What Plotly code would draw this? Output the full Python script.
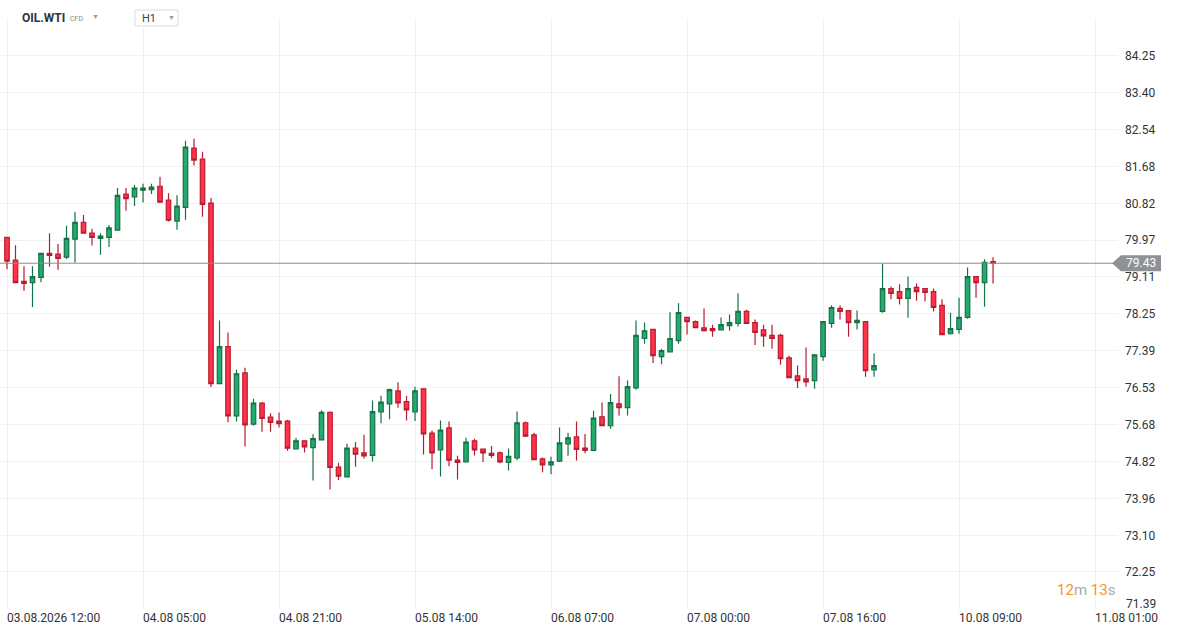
import plotly.graph_objs as go

# hourly OIL.WTI candles, index = trading hour
open_ = [80.03, 79.50, 79.01, 78.98, 79.10, 79.66, 79.64, 79.57, 79.99, 80.38,
         80.13, 80.01, 80.03, 80.20, 81.04, 80.97, 81.13, 81.14, 81.22, 80.90,
         80.41, 80.73, 82.11, 81.85, 80.83, 76.63, 77.49, 75.88, 76.88, 75.69,
         76.18, 75.85, 75.76, 75.76, 75.11, 75.30, 75.14, 75.32, 75.96, 74.69,
         74.46, 75.13, 75.02, 74.96, 75.97, 76.16, 76.46, 76.21, 75.97, 76.51,
         75.48, 75.09, 75.60, 74.85, 74.81, 75.30, 75.11, 75.01, 75.02, 74.80,
         74.90, 75.72, 75.44, 74.88, 74.74, 74.83, 75.23, 75.39, 75.13, 75.08,
         75.86, 75.65, 76.16, 76.07, 76.53, 77.68, 77.89, 77.26, 77.37, 77.63,
         78.17, 78.07, 77.93, 77.91, 77.88, 77.98, 78.03, 78.31, 78.05, 77.88,
         77.75, 77.75, 77.23, 76.81, 76.74, 76.70, 77.26, 78.03, 78.38, 78.33,
         78.05, 78.07, 76.95, 78.31, 78.84, 78.77, 78.61, 78.87, 78.84, 78.77,
         78.45, 77.79, 77.89, 78.17, 79.12, 78.98, 79.47]
high = [80.03, 79.85, 79.36, 79.36, 79.66, 80.13, 79.88, 80.30, 80.62, 80.55,
        80.23, 80.13, 80.32, 81.18, 81.18, 81.25, 81.28, 81.28, 81.44, 81.06,
        81.01, 82.28, 82.33, 82.02, 80.95, 78.10, 77.82, 76.95, 77.00, 76.28,
        76.20, 75.94, 75.96, 75.79, 75.37, 75.30, 75.45, 76.01, 75.98, 74.79,
        75.23, 75.27, 75.44, 76.24, 76.35, 76.51, 76.66, 76.35, 76.56, 76.51,
        75.54, 75.77, 75.75, 74.95, 75.37, 75.35, 75.11, 75.18, 75.05, 75.12,
        75.98, 75.75, 75.49, 74.91, 74.93, 75.61, 75.49, 75.75, 75.46, 76.00,
        76.19, 76.39, 76.80, 76.70, 78.10, 78.05, 77.89, 77.44, 78.29, 78.50,
        78.17, 78.10, 78.38, 78.00, 78.17, 78.24, 78.73, 78.35, 78.12, 78.00,
        78.00, 77.79, 77.28, 77.05, 77.47, 77.30, 78.07, 78.45, 78.45, 78.33,
        78.33, 78.07, 77.33, 79.41, 78.89, 78.94, 79.12, 78.96, 78.84, 78.84,
        78.59, 78.28, 78.63, 79.33, 79.12, 79.52, 79.57]
low = [79.29, 78.98, 78.79, 78.41, 78.99, 79.35, 79.28, 79.53, 79.44, 80.13,
       79.84, 79.63, 79.81, 80.20, 80.65, 80.76, 80.84, 81.04, 80.85, 80.40,
       80.21, 80.44, 81.70, 80.51, 76.55, 76.63, 75.73, 75.75, 75.17, 75.65,
       75.51, 75.51, 75.61, 75.07, 75.11, 75.03, 74.38, 75.32, 74.17, 74.39,
       74.45, 74.70, 74.89, 74.82, 75.71, 75.80, 76.07, 75.77, 75.76, 74.98,
       74.64, 74.47, 74.71, 74.40, 74.81, 74.96, 74.81, 74.90, 74.78, 74.61,
       74.85, 75.39, 74.86, 74.57, 74.52, 74.81, 74.95, 74.84, 75.01, 75.06,
       75.65, 75.58, 75.89, 75.89, 76.49, 77.56, 77.11, 77.08, 77.37, 77.56,
       77.77, 77.93, 77.84, 77.72, 77.88, 77.86, 77.96, 78.03, 77.53, 77.49,
       77.44, 77.07, 76.77, 76.53, 76.56, 76.51, 77.16, 77.93, 78.12, 77.72,
       77.89, 76.79, 76.79, 78.28, 78.59, 78.47, 78.16, 78.56, 78.54, 78.31,
       77.77, 77.77, 77.79, 78.14, 78.63, 78.42, 78.96]
close = [79.48, 78.98, 78.96, 79.12, 79.66, 79.61, 79.54, 80.01, 80.38, 80.13,
         80.03, 80.06, 80.25, 81.01, 80.93, 81.18, 81.18, 81.20, 80.85, 80.43,
         80.76, 82.13, 81.83, 80.80, 76.63, 77.49, 75.88, 76.86, 75.67, 76.18,
         75.82, 75.73, 75.70, 75.13, 75.30, 75.16, 75.35, 75.96, 74.68, 74.48,
         75.13, 74.99, 74.95, 75.98, 76.20, 76.49, 76.18, 76.02, 76.46, 75.46,
         75.02, 75.55, 74.85, 74.80, 75.27, 75.09, 75.02, 74.96, 74.81, 74.94,
         75.72, 75.41, 74.86, 74.74, 74.81, 75.25, 75.37, 75.10, 75.08, 75.83,
         75.65, 76.19, 76.07, 76.56, 77.75, 77.86, 77.28, 77.40, 77.68, 78.28,
         78.07, 77.93, 77.86, 77.86, 78.00, 78.05, 78.31, 78.03, 77.82, 77.74,
         77.68, 77.21, 76.77, 76.70, 76.67, 77.30, 78.07, 78.40, 78.31, 78.05,
         78.10, 76.93, 77.05, 78.84, 78.73, 78.61, 78.84, 78.77, 78.75, 78.40,
         77.77, 77.91, 78.17, 79.12, 78.98, 79.45, 79.43]

tick_idx = [0, 16, 32, 48, 64, 80, 96, 112, 128]
tick_labels = ['03.08.2026 12:00', '04.08 05:00', '04.08 21:00', '05.08 14:00',
               '06.08 07:00', '07.08 00:00', '07.08 16:00', '10.08 09:00',
               '11.08 01:00']
price_ticks = [84.25, 83.40, 82.54, 81.68, 80.82, 79.97, 79.11, 78.25,
               77.39, 76.53, 75.68, 74.82, 73.96, 73.10, 72.25, 71.39]

W, H = 1184, 635
L, R, T, B = 0, 66, 18, 26
PW, PH = W - L - R, H - T - B


def px(x):
    return x / PW


def py(y):
    return (H - B - y) / PH


last = close[-1]
half = 8 / 43.0

# bottom price label sits above the time axis, so it goes in as an annotation
price_text = ['%.2f' % v for v in price_ticks[:-1]] + ['']

data = [go.Candlestick(x=list(range(len(close))), open=open_, high=high,
                       low=low, close=close,
                       increasing=dict(fillcolor='#26a96c',
                                       line=dict(color='#137247', width=1.2)),
                       decreasing=dict(fillcolor='#ff3348',
                                       line=dict(color='#b81c30', width=1.2)),
                       whiskerwidth=0, hoverinfo='skip')]


def note(x, y, text, size, color, anchor='center', ref='paper'):
    return dict(xref='paper', yref=ref, x=x, y=y, xanchor=anchor,
                yanchor='middle', text=text, showarrow=False,
                font=dict(size=size, color=color))


layout = go.Layout(
    width=W, height=H,
    margin=dict(l=L, r=R, t=T, b=B),
    paper_bgcolor='white', plot_bgcolor='white',
    font=dict(family='Roboto', size=12, color='#333'),
    showlegend=False,
    boxgap=0.25,
    xaxis=dict(range=[-0.824, 130.7], tickvals=tick_idx, ticktext=tick_labels,
               showgrid=True, gridcolor='#f1f1f1', zeroline=False,
               showline=False, ticks='', ticklabelposition='outside right',
               rangeslider=dict(visible=False), tickfont=dict(size=12, color='#333')),
    yaxis=dict(side='right', range=[71.389, 85.133], tickvals=price_ticks,
               ticktext=price_text, showgrid=True, gridcolor='#f1f1f1',
               zeroline=False, showline=False, ticks='', ticklabelstandoff=6,
               tickfont=dict(size=12, color='#333')),
    shapes=[
        dict(type='line', xref='paper', yref='y', x0=0, x1=px(1113),
             y0=last, y1=last, line=dict(color='#8e8e8e', width=1)),
        dict(type='path', xref='paper', yref='y', fillcolor='#8e9195',
             line=dict(width=0), layer='above',
             path='M {},{} L {},{} L {},{} L {},{} L {},{} Z'.format(
                 px(1112), last, px(1121), last + half, px(1161), last + half,
                 px(1161), last - half, px(1121), last - half)),
        dict(type='rect', xref='paper', yref='paper', x0=px(135), x1=px(178),
             y0=py(26), y1=py(10), fillcolor='white',
             line=dict(color='#dcdcdc', width=1), layer='above'),
    ],
    annotations=[
        note(px(1141), last, '%.2f' % last, 12, 'white', ref='y'),
        note(px(1124), py(604), '%.2f' % price_ticks[-1], 12, '#333', 'left'),
        note(px(20), py(18), '<b>OIL.WTI</b>', 12, '#2b3442', 'left'),
        note(px(68), py(19), 'CFD', 7, '#888', 'left'),
        note(px(95), py(17), '▼', 7, '#999'),
        note(px(140), py(18), 'H1', 11, '#444', 'left'),
        note(px(171), py(18), '▼', 7, '#999'),
        note(px(1117), py(590),
             "<span style='color:#f7941d'>12</span><span style='color:#aaaaaa'>m</span> "
             "<span style='color:#f7941d'>13</span><span style='color:#aaaaaa'>s</span>",
             15, '#aaa', 'right'),
    ],
)

fig = go.Figure(data=data, layout=layout)
fig.write_html("out.html", config={'displayModeBar': False},
               post_script="document.body.style.margin='0px';")
